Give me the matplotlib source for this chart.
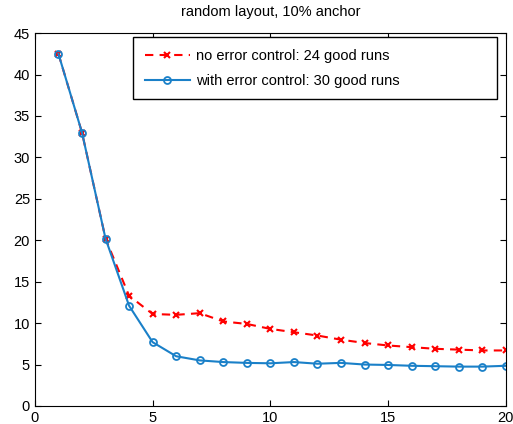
import matplotlib
matplotlib.use("Agg")
import matplotlib.pyplot as plt

x = list(range(1, 21))
no_ctrl = [42.5, 33.0, 20.2, 13.3, 11.1, 11.0, 11.2, 10.2, 9.9, 9.3,
           8.9, 8.5, 8.0, 7.6, 7.3, 7.1, 6.9, 6.8, 6.7, 6.7]
with_ctrl = [42.5, 33.0, 20.2, 12.1, 7.7, 6.0, 5.5, 5.3, 5.2, 5.15,
             5.3, 5.1, 5.2, 5.0, 4.95, 4.85, 4.8, 4.75, 4.75, 4.85]

plt.rcParams['font.family'] = ['Liberation Sans', 'DejaVu Sans']

fig = plt.figure(figsize=(5.13, 4.24), dpi=100)
ax = fig.add_axes([0.068, 0.0425, 0.918, 0.8795])

ax.plot(x, no_ctrl, '--x', color='red', linewidth=1.5, markersize=4,
        markeredgewidth=1.5, dashes=(4, 3),
        label="no error control: 24 good runs")
ax.plot(x, with_ctrl, '-o', color='#1a80c8', linewidth=1.5, markersize=5,
        markerfacecolor='none', markeredgewidth=1.3,
        label="with error control: 30 good runs")

ax.set_xlim(0, 20)
ax.set_ylim(0, 45)
ax.set_xticks(range(0, 21, 5))
ax.set_yticks(range(0, 46, 5))
ax.tick_params(direction='in', top=True, right=True, labelsize=10.5, length=4)
ax.set_title("random layout, 10% anchor", fontsize=10.5, pad=12)

# legend box stretched like the MATLAB one, entries on the left
leg = ax.legend(loc='upper left', bbox_to_anchor=(0.208, 0.831, 0.773, 0.158),
                mode='expand', borderaxespad=0, fontsize=10.5, fancybox=False,
                framealpha=1, edgecolor='black', borderpad=0.8,
                labelspacing=0.75, handlelength=3.1, handletextpad=0.4)
leg.get_frame().set_linewidth(1.0)

fig.savefig("out.png", dpi=100)
